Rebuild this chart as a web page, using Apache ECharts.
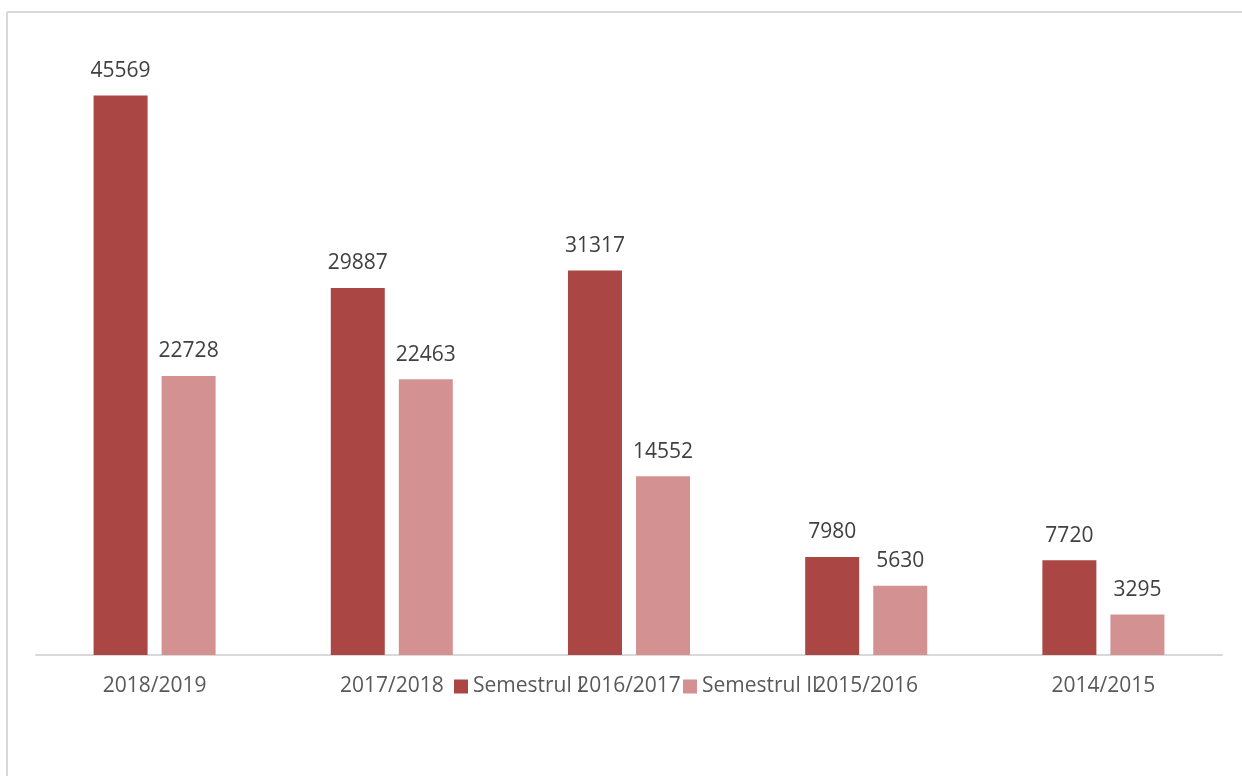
<!DOCTYPE html>
<html>
<head>
<meta charset="utf-8">
<script src="https://cdn.jsdelivr.net/npm/echarts@6/dist/echarts.min.js"></script>
<style>
html,body{margin:0;padding:0;background:#fff;}
#chart{width:1242px;height:776px;}
</style>
</head>
<body>
<div id="chart"></div>
<script>
const categories = ['2018/2019', '2017/2018', '2016/2017', '2015/2016', '2014/2015'];
const semestrulI = [45569, 29887, 31317, 7980, 7720];
const semestrulII = [22728, 22463, 14552, 5630, 3295];
const seriesNames = ['Semestrul I', 'Semestrul II'];

const FONT = '"Open Sans", sans-serif';
const legendBase = {
  top: 671,
  itemWidth: 14, itemHeight: 14,
  icon: 'rect',
  textStyle: { color: '#595959', fontSize: 21, fontFamily: FONT }
};
const chart = echarts.init(document.getElementById('chart'));
chart.setOption({
  animation: false,
  backgroundColor: '#fff',
  graphic: [
    { type: 'line', shape: { x1: 7, y1: 12, x2: 1242, y2: 12 }, style: { stroke: '#d9d9d9', lineWidth: 2 } },
    { type: 'line', shape: { x1: 7, y1: 12, x2: 7, y2: 776 }, style: { stroke: '#d9d9d9', lineWidth: 2 } }
  ],
  grid: { left: 36, right: 20, top: 41, bottom: 121 },
  legend: [
    Object.assign({ data: [seriesNames[0]], left: 449 }, legendBase),
    Object.assign({ data: [seriesNames[1]], left: 678 }, legendBase)
  ],
  xAxis: {
    type: 'category',
    data: categories,
    axisLine: { lineStyle: { color: '#d9d9d9', width: 2 } },
    axisTick: { show: false },
    axisLabel: { color: '#595959', fontSize: 21, fontFamily: FONT, margin: 21 }
  },
  yAxis: {
    type: 'value', min: 0, max: 50000,
    show: false,
    splitLine: { show: false }
  },
  series: [
    {
      name: seriesNames[0], type: 'bar', data: semestrulI,
      barWidth: 54, barGap: '26%',
      itemStyle: { color: '#aa4644' },
      label: { show: true, position: 'top', distance: 14, color: '#404040', fontSize: 21, fontFamily: FONT }
    },
    {
      name: seriesNames[1], type: 'bar', data: semestrulII,
      barWidth: 54,
      itemStyle: { color: '#d39291' },
      label: { show: true, position: 'top', distance: 14, color: '#404040', fontSize: 21, fontFamily: FONT }
    }
  ]
});
</script>
</body>
</html>
